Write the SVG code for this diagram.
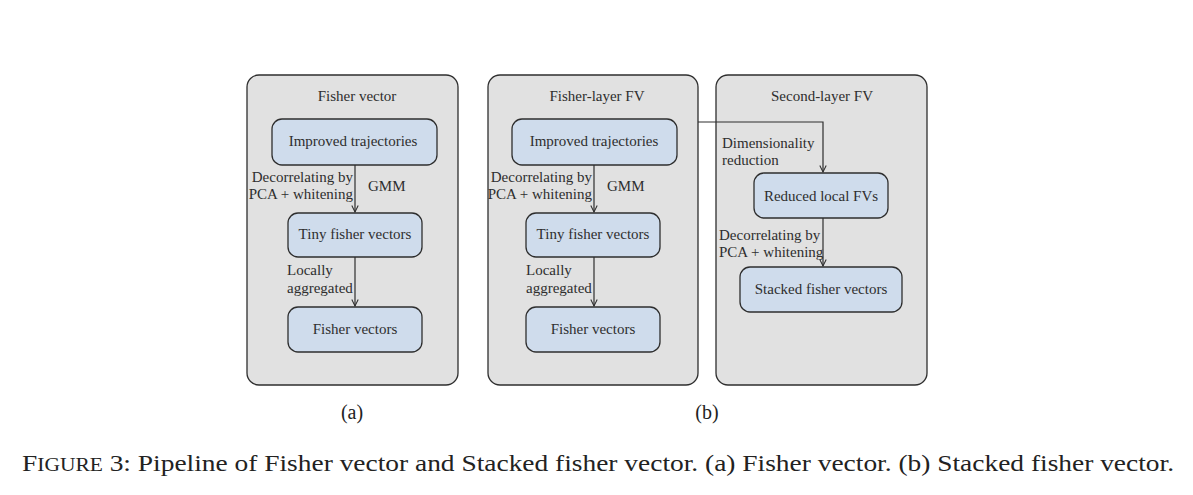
<svg xmlns="http://www.w3.org/2000/svg" width="1193" height="495" viewBox="0 0 1193 495">
<style>
.panel{fill:#e1e1e1;stroke:#2e2e2e;stroke-width:1.3}
.node{fill:#cfdcec;stroke:#2e2e2e;stroke-width:1.3}
.t{font-size:15px;text-anchor:middle;fill:#2e2e2e}
.l{font-size:15px;fill:#2e2e2e}
.r{font-size:15px;text-anchor:end;fill:#2e2e2e}
.c{stroke:#2e2e2e;stroke-width:1.2;fill:none}
</style>
<defs>
<marker id="ah" viewBox="0 0 10 10" refX="9" refY="5" markerWidth="8" markerHeight="8" markerUnits="userSpaceOnUse" orient="auto">
<path d="M1,1 L9,5 L1,9" fill="none" stroke="#2e2e2e" stroke-width="1.3"/>
</marker>
</defs>
<rect width="1193" height="495" fill="#ffffff"/>
<g font-family="Liberation Serif, serif">
<g id="panel-a">
<rect class="panel" x="247" y="75" width="211" height="310" rx="12"/>
<text class="t" x="357" y="101">Fisher vector</text>
</g>
<g id="panel-b1">
<rect class="panel" x="488" y="75" width="210" height="310" rx="12"/>
<text class="t" x="597" y="101">Fisher-layer FV</text>
</g>
<g id="panel-b2">
<rect class="panel" x="716" y="75" width="211" height="310" rx="12"/>
<text class="t" x="822" y="101">Second-layer FV</text>
</g>
<g id="a-improved">
<rect class="node" x="272" y="119" width="165" height="46" rx="10"/>
<text class="t" x="353" y="146">Improved trajectories</text>
</g>
<g id="a-tiny">
<rect class="node" x="288" y="213" width="134" height="44" rx="10"/>
<text class="t" x="355" y="239">Tiny fisher vectors</text>
</g>
<g id="a-fisher">
<rect class="node" x="288" y="307" width="134" height="45" rx="10"/>
<text class="t" x="355" y="334">Fisher vectors</text>
</g>
<g id="b-improved">
<rect class="node" x="512" y="119" width="165" height="46" rx="10"/>
<text class="t" x="594" y="146">Improved trajectories</text>
</g>
<g id="b-tiny">
<rect class="node" x="526" y="213" width="134" height="44" rx="10"/>
<text class="t" x="593" y="239">Tiny fisher vectors</text>
</g>
<g id="b-fisher">
<rect class="node" x="526" y="307" width="134" height="45" rx="10"/>
<text class="t" x="593" y="334">Fisher vectors</text>
</g>
<g id="b-reduced">
<rect class="node" x="754" y="173" width="134" height="45" rx="10"/>
<text class="t" x="821" y="201">Reduced local FVs</text>
</g>
<g id="b-stacked">
<rect class="node" x="740" y="267" width="162" height="45" rx="10"/>
<text class="t" x="821" y="294">Stacked fisher vectors</text>
</g>
<g id="connectors">
<line class="c" x1="355" y1="165" x2="355" y2="212" marker-end="url(#ah)"/>
<line class="c" x1="355" y1="257" x2="355" y2="306" marker-end="url(#ah)"/>
<line class="c" x1="594" y1="165" x2="594" y2="212" marker-end="url(#ah)"/>
<line class="c" x1="594" y1="257" x2="594" y2="306" marker-end="url(#ah)"/>
<polyline class="c" points="698,122 823,122 823,172" marker-end="url(#ah)"/>
<line class="c" x1="823" y1="218" x2="823" y2="266" marker-end="url(#ah)"/>
<text class="r" x="353" y="182">Decorrelating by</text>
<text class="r" x="353" y="199">PCA + whitening</text>
<text class="l" x="368" y="191">GMM</text>
<text class="l" x="287" y="275">Locally</text>
<text class="l" x="287" y="293">aggregated</text>
<text class="r" x="592" y="182">Decorrelating by</text>
<text class="r" x="592" y="199">PCA + whitening</text>
<text class="l" x="607" y="191">GMM</text>
<text class="l" x="526" y="275">Locally</text>
<text class="l" x="526" y="293">aggregated</text>
<text class="l" x="722" y="148">Dimensionality</text>
<text class="l" x="722" y="165">reduction</text>
<text class="l" x="719" y="240">Decorrelating by</text>
<text class="l" x="719" y="257">PCA + whitening</text>
</g>
<g id="captions" fill="#222">
<text x="352" y="419" font-size="20" text-anchor="middle">(a)</text>
<text x="707" y="419" font-size="20" text-anchor="middle">(b)</text>
<text x="22" y="471" font-size="23" textLength="1152" lengthAdjust="spacingAndGlyphs">F<tspan font-size="18">IGURE</tspan> 3: Pipeline of Fisher vector and Stacked fisher vector. (a) Fisher vector. (b) Stacked fisher vector.</text>
</g>
</g>
</svg>
